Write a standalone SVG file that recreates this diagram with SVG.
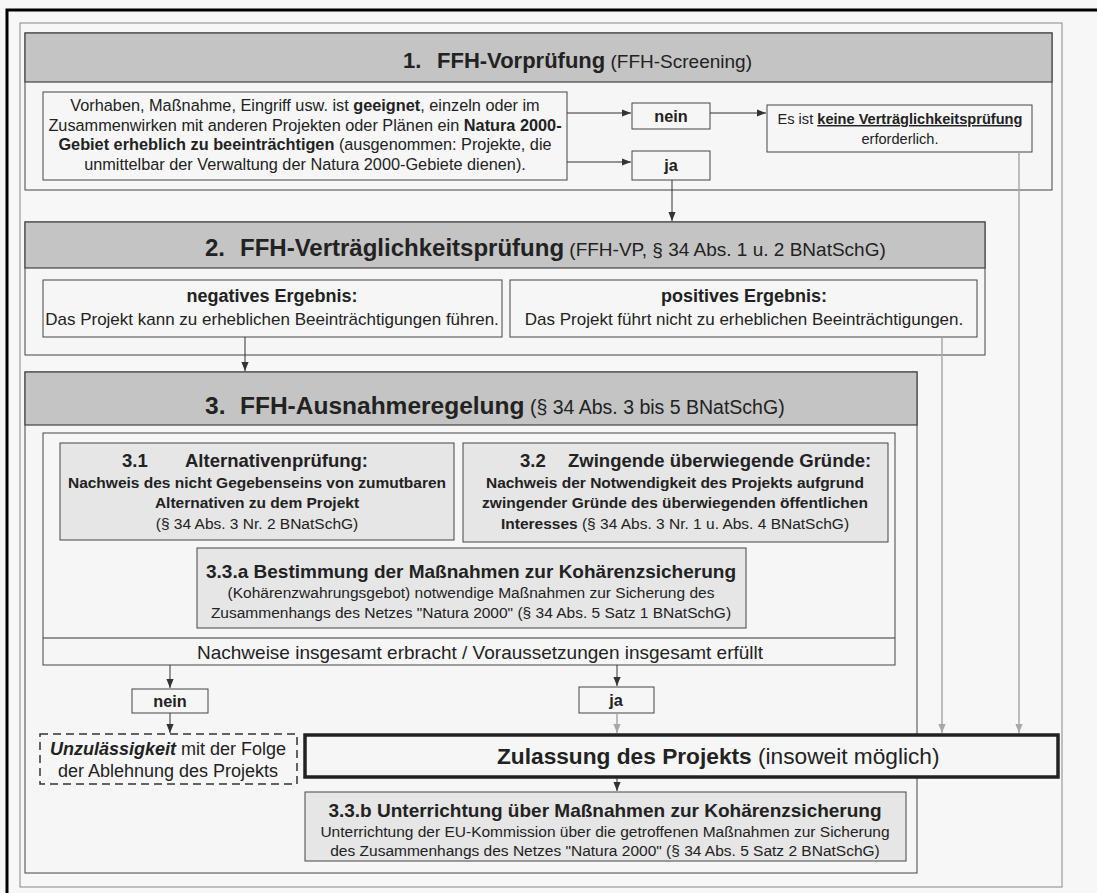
<svg xmlns="http://www.w3.org/2000/svg" width="1097" height="893" viewBox="0 0 1097 893">
<defs>
<marker id="ah" viewBox="0 0 10 10" refX="10" refY="5" markerWidth="9" markerHeight="9" markerUnits="userSpaceOnUse" orient="auto"><path d="M0,1 L10,5 L0,9 z" fill="#333"/></marker>
<marker id="ahg" viewBox="0 0 10 10" refX="10" refY="5" markerWidth="9" markerHeight="9" markerUnits="userSpaceOnUse" orient="auto"><path d="M0,1 L10,5 L0,9 z" fill="#a8a8a8"/></marker>
</defs>
<style>
text{font-family:"Liberation Sans",Arial,sans-serif;fill:#222}
.b{font-weight:bold}
.c{text-anchor:middle}
.u{text-decoration:underline}
.sec{fill:#f6f6f6;stroke:#444;stroke-width:1}
.band{fill:#c4c4c4;stroke:#444;stroke-width:1.2}
.box{fill:#f6f6f6;stroke:#444;stroke-width:1}
.gbox{fill:#e6e6e6;stroke:#444;stroke-width:1}
.ln{stroke:#333;stroke-width:1;fill:none}
.lg{stroke:#a8a8a8;stroke-width:1.5;fill:none}
.t16{font-size:16.3px}
.t15{font-size:15.5px}
.t17{font-size:17px}
</style>
<rect x="0" y="0" width="1097" height="893" fill="#f7f7f7"/>
<path d="M7,893 V10 H1097" fill="none" stroke="#000" stroke-width="3"/>
<rect x="20" y="23" width="1042" height="864" fill="none" stroke="#888" stroke-width="1"/>

<g id="section1">
<rect class="sec" x="25" y="33" width="1027" height="157"/>
<rect class="band" x="25" y="33" width="1027" height="49"/>
<text x="403" y="68" style="font-size:22px"><tspan class="b">1.</tspan><tspan x="437" class="b">FFH-Vorprüfung</tspan><tspan style="font-size:19px"> (FFH-Screening)</tspan></text>
</g>
<g id="vorhaben">
<rect class="box" x="43" y="92" width="524" height="88"/>
<text class="c t16" x="305" y="111">Vorhaben, Maßnahme, Eingriff usw. ist <tspan class="b">geeignet</tspan>, einzeln oder im</text>
<text class="c t16" x="305" y="130.5">Zusammenwirken mit anderen Projekten oder Plänen ein <tspan class="b">Natura 2000-</tspan></text>
<text class="c t16" x="305" y="150"><tspan class="b">Gebiet erheblich zu beeinträchtigen</tspan> (ausgenommen: Projekte, die</text>
<text class="c t16" x="305" y="169.5">unmittelbar der Verwaltung der Natura 2000-Gebiete dienen).</text>
</g>
<g id="nein1">
<rect class="box" x="632" y="103" width="78" height="26"/>
<text class="c b t16" x="671" y="122">nein</text>
</g>
<g id="ja1">
<rect class="box" x="632" y="151" width="78" height="29"/>
<text class="c b t16" x="671" y="171">ja</text>
</g>
<g id="keine">
<rect class="box" x="767" y="105" width="265" height="47"/>
<text class="c" x="900" y="124" style="font-size:14.6px">Es ist <tspan class="b u">keine Verträglichkeitsprüfung</tspan></text>
<text class="c" x="900" y="144" style="font-size:14.6px">erforderlich.</text>
</g>

<g id="section2">
<rect class="sec" x="25" y="222" width="960" height="133"/>
<rect class="band" x="25" y="222" width="960" height="46"/>
<text x="205" y="256" style="font-size:24px"><tspan class="b">2.</tspan><tspan x="240" class="b">FFH-Verträglichkeitsprüfung</tspan><tspan style="font-size:19px"> (FFH-VP, § 34 Abs. 1 u. 2 BNatSchG)</tspan></text>
</g>
<g id="negativ">
<rect class="box" x="43" y="280" width="459" height="57"/>
<text class="c b" x="272" y="302" style="font-size:18px">negatives Ergebnis:</text>
<text class="c t17" x="272" y="325">Das Projekt kann zu erheblichen Beeinträchtigungen führen.</text>
</g>
<g id="positiv">
<rect class="box" x="510" y="280" width="467" height="57"/>
<text class="c b" x="744" y="302" style="font-size:18px">positives Ergebnis:</text>
<text class="c t17" x="744" y="325">Das Projekt führt nicht zu erheblichen Beeinträchtigungen.</text>
</g>

<g id="section3">
<rect class="sec" x="25" y="372" width="892" height="501"/>
<rect class="band" x="25" y="372" width="892" height="53"/>
<text x="205" y="414" style="font-size:24.5px"><tspan class="b">3.</tspan><tspan x="240" class="b">FFH-Ausnahmeregelung</tspan><tspan style="font-size:19.5px"> (§ 34 Abs. 3 bis 5 BNatSchG)</tspan></text>
</g>
<g id="nachweise">
<rect class="box" x="43" y="433" width="852" height="232"/>
<line class="ln" x1="43" y1="638" x2="895" y2="638"/>
<text x="197" y="659" style="font-size:19px">Nachweise insgesamt erbracht / Voraussetzungen insgesamt erfüllt</text>
</g>
<g id="alt31">
<rect class="gbox" x="60" y="443" width="394" height="97"/>
<text x="122" y="467" class="b" style="font-size:18.5px">3.1<tspan x="185">Alternativenprüfung:</tspan></text>
<text class="c b t15" x="257" y="488">Nachweis des nicht Gegebenseins von zumutbaren</text>
<text class="c b t15" x="257" y="508">Alternativen zu dem Projekt</text>
<text class="c t15" x="257" y="529">(§ 34 Abs. 3 Nr. 2 BNatSchG)</text>
</g>
<g id="zw32">
<rect class="gbox" x="463" y="443" width="425" height="99"/>
<text x="520" y="467" class="b" style="font-size:18.5px">3.2<tspan x="568">Zwingende überwiegende Gründe:</tspan></text>
<text class="c b t15" x="675" y="488">Nachweis der Notwendigkeit des Projekts aufgrund</text>
<text class="c b t15" x="675" y="508">zwingender Gründe des überwiegenden öffentlichen</text>
<text class="c t15" x="675" y="529"><tspan class="b">Interesses</tspan> (§ 34 Abs. 3 Nr. 1 u. Abs. 4 BNatSchG)</text>
</g>
<g id="koh33a">
<rect class="gbox" x="197" y="548" width="549" height="80"/>
<text class="c b" x="471" y="578" style="font-size:19px">3.3.a Bestimmung der Maßnahmen zur Kohärenzsicherung</text>
<text class="c t15" x="471" y="598">(Kohärenzwahrungsgebot) notwendige Maßnahmen zur Sicherung des</text>
<text class="c t15" x="471" y="618">Zusammenhangs des Netzes "Natura 2000" (§ 34 Abs. 5 Satz 1 BNatSchG)</text>
</g>
<g id="nein2">
<rect class="box" x="132" y="689" width="76" height="24"/>
<text class="c b t16" x="170" y="707">nein</text>
</g>
<g id="ja2">
<rect class="box" x="579" y="687" width="75" height="26"/>
<text class="c b t16" x="616" y="706">ja</text>
</g>
<g id="unzul">
<rect x="40" y="734" width="257" height="50" fill="#f6f6f6" stroke="#333" stroke-width="1.5" stroke-dasharray="8,5"/>
<text class="c" x="168" y="755" style="font-size:18px"><tspan class="b" font-style="italic">Unzulässigkeit</tspan> mit der Folge</text>
<text class="c" x="168" y="777" style="font-size:18px">der Ablehnung des Projekts</text>
</g>
<g id="zulassung">
<rect x="305" y="735" width="753" height="42" fill="#f6f6f6" stroke="#222" stroke-width="3.5"/>
<text x="497" y="764" style="font-size:22.7px"><tspan class="b">Zulassung des Projekts</tspan> (insoweit möglich)</text>
</g>
<g id="koh33b">
<rect class="gbox" x="305" y="792" width="601" height="69"/>
<text class="c b" x="605" y="817" style="font-size:19px">3.3.b Unterrichtung über Maßnahmen zur Kohärenzsicherung</text>
<text class="c t15" x="605" y="837">Unterrichtung der EU-Kommission über die getroffenen Maßnahmen zur Sicherung</text>
<text class="c t15" x="605" y="856">des Zusammenhangs des Netzes "Natura 2000" (§ 34 Abs. 5 Satz 2 BNatSchG)</text>
</g>

<g id="connectors">
<line class="ln" x1="567" y1="113" x2="631" y2="113" marker-end="url(#ah)"/>
<line class="ln" x1="567" y1="162" x2="631" y2="162" marker-end="url(#ah)"/>
<line class="ln" x1="710" y1="113" x2="766" y2="113" marker-end="url(#ah)"/>
<line class="ln" x1="672" y1="180" x2="672" y2="221" marker-end="url(#ah)"/>
<line class="ln" x1="245" y1="337" x2="245" y2="371" marker-end="url(#ah)"/>
<line class="lg" x1="1019" y1="152" x2="1019" y2="733" marker-end="url(#ahg)"/>
<line class="lg" x1="942" y1="337" x2="942" y2="733" marker-end="url(#ahg)"/>
<line class="ln" x1="170" y1="665" x2="170" y2="688" marker-end="url(#ah)"/>
<line class="ln" x1="170" y1="713" x2="170" y2="733" marker-end="url(#ah)"/>
<line class="ln" x1="617" y1="665" x2="617" y2="686" marker-end="url(#ah)"/>
<line class="lg" x1="617" y1="713" x2="617" y2="733" marker-end="url(#ahg)"/>
<line class="ln" x1="617" y1="778" x2="617" y2="791" marker-end="url(#ah)"/>
</g>
</svg>
